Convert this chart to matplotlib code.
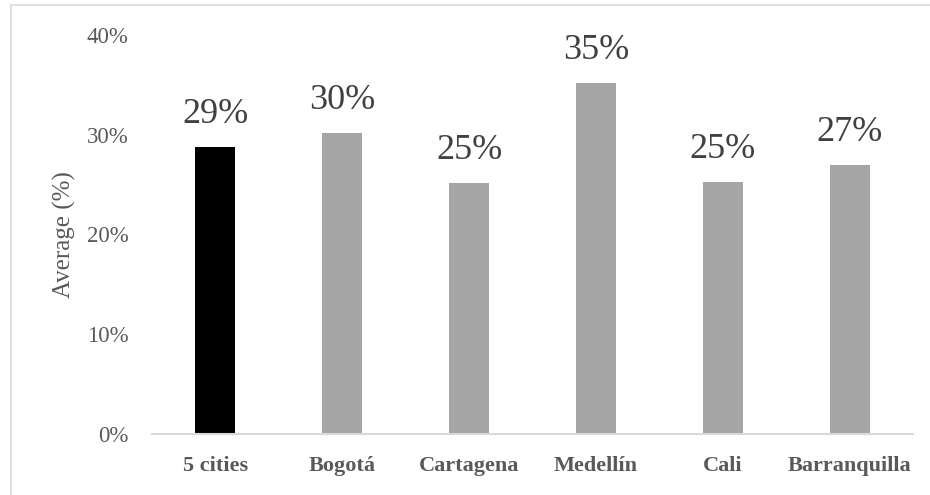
import matplotlib
matplotlib.use("Agg")
import matplotlib.pyplot as plt
from matplotlib.patches import Rectangle

cities = ["5 cities", "Bogotá", "Cartagena", "Medellín", "Cali", "Barranquilla"]
values = [0.288, 0.302, 0.252, 0.352, 0.253, 0.270]
labels = ["29%", "30%", "25%", "35%", "25%", "27%"]
bar_colors = ["#000000", "#a5a5a5", "#a5a5a5", "#a5a5a5", "#a5a5a5", "#a5a5a5"]
yticks = [0.0, 0.1, 0.2, 0.3, 0.4]
ytick_labels = ["0%", "10%", "20%", "30%", "40%"]

plt.rcParams['font.family'] = ['Liberation Serif', 'DejaVu Serif']

fig = plt.figure(figsize=(9.3, 4.95), dpi=100)
ax = fig.add_axes([152 / 930, 61 / 495, 761 / 930, 399 / 495])

xs = range(len(cities))
ax.bar(xs, values, width=0.315, color=bar_colors)

for x, v, lab in zip(xs, values, labels):
    ax.annotate(lab, (x, v), xytext=(0, 17), textcoords='offset points',
                ha='center', va='baseline', fontsize=26, color='#404040')

ax.set_xlim(-0.5, len(cities) - 0.5)
ax.set_ylim(0, 0.40)
ax.set_yticks(yticks)
ax.set_yticklabels(ytick_labels, fontsize=16.5, color='#595959')
ax.set_xticks(list(xs))
ax.set_xticklabels(cities, fontsize=16, fontweight='bold', color='#595959')
ax.tick_params(axis='y', length=0, pad=17)
ax.tick_params(axis='x', length=0, pad=16)

for s in ['top', 'right', 'left']:
    ax.spines[s].set_visible(False)
ax.spines['bottom'].set_color('#d9d9d9')
ax.spines['bottom'].set_linewidth(1.5)

ax.set_ylabel('Average (%)', fontsize=18, color='#595959')
ax.yaxis.set_label_coords(-0.1, 0.5)

# chart area border (right and bottom run off the image)
fig.patches.append(Rectangle((11 / 930, -0.1), 1.0, 1.1 - 5 / 495,
                             transform=fig.transFigure, fill=False,
                             edgecolor='#d9d9d9', linewidth=1.2))

fig.savefig('out.png', dpi=100)
